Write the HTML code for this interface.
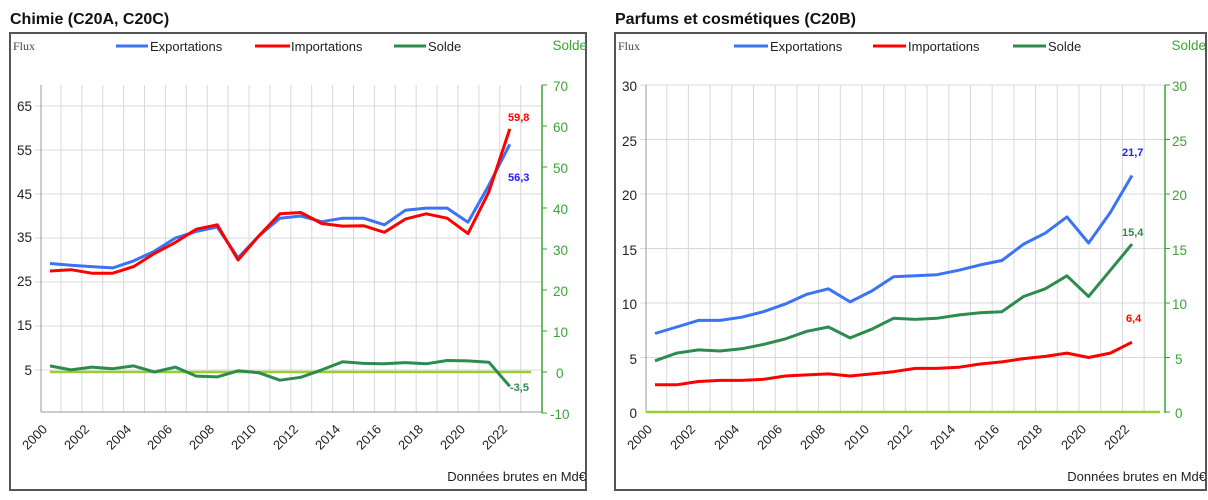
<!DOCTYPE html>
<html><head><meta charset="utf-8"><style>
html,body{margin:0;padding:0;background:#fff;}
svg{display:block;font-family:"Liberation Sans",Arial,sans-serif;}
</style></head><body>
<svg id="s" width="1208" height="500" viewBox="0 0 1208 500" xmlns="http://www.w3.org/2000/svg">
<rect width="1208" height="500" fill="#fff"/>
<text x="10" y="24" font-size="16" font-weight="bold" fill="#111">Chimie (C20A, C20C)</text>
<text x="615" y="24" font-size="16" font-weight="bold" fill="#111">Parfums et cosmétiques (C20B)</text>
<rect x="10" y="33" width="576" height="457" fill="none" stroke="#555" stroke-width="2"/>
<rect x="615" y="33" width="591" height="457" fill="none" stroke="#555" stroke-width="2"/>
<g id="grid"></g>
<g font-size="13" fill="#222">
<text x="13" y="50" font-family="Liberation Serif,serif" fill="#444" font-size="12">Flux</text>
<line x1="116" y1="46" x2="148" y2="46" stroke="#3b73f5" stroke-width="3"/><text x="150" y="51">Exportations</text>
<line x1="255" y1="46" x2="290" y2="46" stroke="#f00" stroke-width="3"/><text x="291" y="51">Importations</text>
<line x1="394" y1="46" x2="426" y2="46" stroke="#2e8b4e" stroke-width="3"/><text x="428" y="51">Solde</text>
<text x="587" y="50" text-anchor="end" fill="#3aa535" font-size="13.5">Solde</text>
<text x="618" y="50" font-family="Liberation Serif,serif" fill="#444" font-size="12">Flux</text>
<line x1="734" y1="46" x2="768" y2="46" stroke="#3b73f5" stroke-width="3"/><text x="770" y="51">Exportations</text>
<line x1="873" y1="46" x2="906" y2="46" stroke="#f00" stroke-width="3"/><text x="908" y="51">Importations</text>
<line x1="1013" y1="46" x2="1046" y2="46" stroke="#2e8b4e" stroke-width="3"/><text x="1048" y="51">Solde</text>
<text x="1206" y="50" text-anchor="end" fill="#3aa535" font-size="13.5">Solde</text>
</g>
<g font-size="13.5" fill="#222" text-anchor="end">
<text x="32" y="111">65</text><text x="32" y="155">55</text><text x="32" y="199">45</text><text x="32" y="242">35</text><text x="32" y="286">25</text><text x="32" y="330">15</text><text x="32" y="375">5</text>
<text x="637" y="91">30</text><text x="637" y="146">25</text><text x="637" y="200">20</text><text x="637" y="255">15</text><text x="637" y="309">10</text><text x="637" y="364">5</text><text x="637" y="418">0</text>
</g>
<g font-size="13.5" fill="#3aa535">
<text x="553" y="91">70</text><text x="553" y="132">60</text><text x="553" y="173">50</text><text x="553" y="214">40</text><text x="553" y="255">30</text><text x="553" y="296">20</text><text x="553" y="337">10</text><text x="556" y="378">0</text><text x="550" y="419">-10</text>
<text x="1172" y="91">30</text><text x="1172" y="146">25</text><text x="1172" y="200">20</text><text x="1172" y="255">15</text><text x="1172" y="309">10</text><text x="1175" y="364">5</text><text x="1175" y="418">0</text>
</g>
<g font-size="13" fill="#222" text-anchor="end">
<text transform="translate(48,430) rotate(-45)">2000</text>
<text transform="translate(90,430) rotate(-45)">2002</text>
<text transform="translate(132,430) rotate(-45)">2004</text>
<text transform="translate(173,430) rotate(-45)">2006</text>
<text transform="translate(215,430) rotate(-45)">2008</text>
<text transform="translate(257,430) rotate(-45)">2010</text>
<text transform="translate(299,430) rotate(-45)">2012</text>
<text transform="translate(341,430) rotate(-45)">2014</text>
<text transform="translate(382,430) rotate(-45)">2016</text>
<text transform="translate(424,430) rotate(-45)">2018</text>
<text transform="translate(466,430) rotate(-45)">2020</text>
<text transform="translate(508,430) rotate(-45)">2022</text>
<text transform="translate(653,430) rotate(-45)">2000</text>
<text transform="translate(696,430) rotate(-45)">2002</text>
<text transform="translate(740,430) rotate(-45)">2004</text>
<text transform="translate(783,430) rotate(-45)">2006</text>
<text transform="translate(826,430) rotate(-45)">2008</text>
<text transform="translate(870,430) rotate(-45)">2010</text>
<text transform="translate(913,430) rotate(-45)">2012</text>
<text transform="translate(956,430) rotate(-45)">2014</text>
<text transform="translate(1000,430) rotate(-45)">2016</text>
<text transform="translate(1043,430) rotate(-45)">2018</text>
<text transform="translate(1087,430) rotate(-45)">2020</text>
<text transform="translate(1130,430) rotate(-45)">2022</text>
<text x="586" y="481" font-size="13">Données brutes en Md€</text>
<text x="1206" y="481" font-size="13">Données brutes en Md€</text>
</g>
<g id="series"></g>
<g font-size="11" font-weight="bold">
<text x="508" y="121" fill="#f00">59,8</text>
<text x="508" y="181" fill="#2020ff">56,3</text>
<text x="510" y="391" fill="#2e8b4e">-3,5</text>
<text x="1122" y="156" fill="#2020ff">21,7</text>
<text x="1122" y="236" fill="#2e8b4e">15,4</text>
<text x="1126" y="322" fill="#f00">6,4</text>
</g>
</svg>
<script>
var NS="http://www.w3.org/2000/svg";
function el(p,t,a){var e=document.createElementNS(NS,t);for(var k in a)e.setAttribute(k,a[k]);p.appendChild(e);return e;}
var g=document.getElementById('grid'),s=document.getElementById('series');
for(var k=1;k<24;k++){var x=40+20.9*k;el(g,'line',{x1:x,y1:85,x2:x,y2:412,stroke:'#d8d8d8','stroke-width':1});}
[65,55,45,35,25,15,5].forEach(function(v){var y=370-(v-5)*4.4;el(g,'line',{x1:35,y1:y,x2:542,y2:y,stroke:'#d8d8d8'});});
el(g,'line',{x1:41,y1:85,x2:41,y2:412,stroke:'#999'});
el(g,'line',{x1:41,y1:412,x2:542,y2:412,stroke:'#999'});
el(g,'line',{x1:542,y1:85,x2:542,y2:413,stroke:'#3aa535','stroke-width':1.5});
for(var v=70;v>=-10;v-=10){var y=372-v*4.1;el(g,'line',{x1:542,y1:y,x2:547,y2:y,stroke:'#3aa535'});}
el(g,'line',{x1:50,y1:372,x2:531,y2:372,stroke:'#9acd32','stroke-width':2.5});
for(var k=1;k<24;k++){var x=645+21.7*k;el(g,'line',{x1:x,y1:85,x2:x,y2:412,stroke:'#d8d8d8'});}
[30,25,20,15,10,5].forEach(function(v){var y=412-v*10.9;el(g,'line',{x1:640,y1:y,x2:1165,y2:y,stroke:'#d8d8d8'});});
el(g,'line',{x1:646,y1:85,x2:646,y2:412,stroke:'#999'});
el(g,'line',{x1:1165,y1:85,x2:1165,y2:413,stroke:'#3aa535','stroke-width':1.5});
for(var v=30;v>=0;v-=5){var y=412-v*10.9;el(g,'line',{x1:1165,y1:y,x2:1170,y2:y,stroke:'#3aa535'});}
el(g,'line',{x1:646,y1:412,x2:1160,y2:412,stroke:'#9acd32','stroke-width':2.5});
function poly(vals,fx,fy,col){var p=vals.map(function(v,i){return fx(i).toFixed(1)+','+fy(v).toFixed(1);}).join(' ');
el(s,'polyline',{points:p,fill:'none',stroke:col,'stroke-width':3,'stroke-linejoin':'round'});}
var lx=function(i){return 50+20.9*i;},ly=function(v){return 370-(v-5)*4.4;},ls=function(v){return 372-v*4.1;};
poly([1.5,0.5,1.2,0.8,1.5,0,1.2,-1,-1.2,0.3,-0.2,-2,-1.3,0.5,2.5,2.1,2.0,2.3,2.0,2.8,2.7,2.4,-3.5],lx,ls,'#2e8b4e');
poly([29.2,28.8,28.5,28.2,29.8,32,35,36.5,37.5,30.5,35.5,39.5,40,38.7,39.5,39.5,38,41.3,41.8,41.8,38.6,47,56.3],lx,ly,'#3b73f5');
poly([27.5,27.8,27,27,28.5,31.5,34,37,38,30,35.5,40.5,40.8,38.3,37.7,37.8,36.3,39.3,40.5,39.5,36,45.5,59.8],lx,ly,'#f00');
var rx=function(i){return 655+21.68*i;},ry=function(v){return 412-v*10.9;};
poly([7.2,7.8,8.4,8.4,8.7,9.2,9.9,10.8,11.3,10.1,11.1,12.4,12.5,12.6,13.0,13.5,13.9,15.4,16.4,17.9,15.5,18.3,21.7],rx,ry,'#3b73f5');
poly([2.5,2.5,2.8,2.9,2.9,3.0,3.3,3.4,3.5,3.3,3.5,3.7,4.0,4.0,4.1,4.4,4.6,4.9,5.1,5.4,5.0,5.4,6.4],rx,ry,'#f00');
poly([4.7,5.4,5.7,5.6,5.8,6.2,6.7,7.4,7.8,6.8,7.6,8.6,8.5,8.6,8.9,9.1,9.2,10.6,11.3,12.5,10.6,13.0,15.4],rx,ry,'#2e8b4e');
</script>
</body></html>
